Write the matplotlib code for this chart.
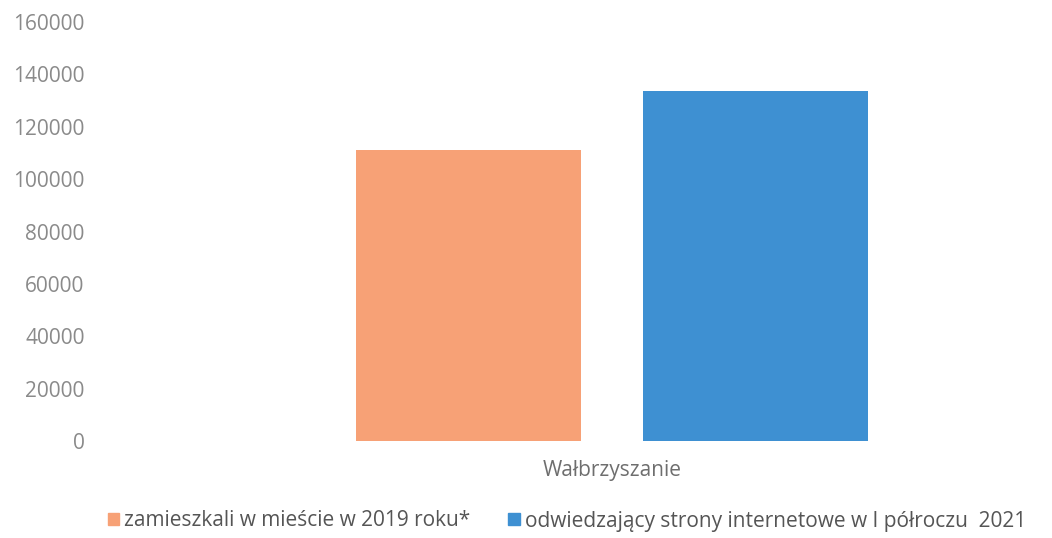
import matplotlib
matplotlib.use("Agg")
import matplotlib.pyplot as plt
from matplotlib.patches import Patch

category = "Wałbrzyszanie"
series_names = ["zamieszkali w mieście w 2019 roku*",
                "odwiedzający strony internetowe w I półroczu  2021"]
series_values = [111000, 133500]
yticks = [0, 20000, 40000, 60000, 80000, 100000, 120000, 140000, 160000]

colors = ["#F7A176", "#3E90D2"]
plt.rcParams["font.family"] = ["Open Sans", "DejaVu Sans"]

fig = plt.figure(figsize=(10.52, 5.38), dpi=100)
ax = fig.add_axes([100 / 1052, 1 - 441 / 538, 940 / 1052, 419 / 538])

offsets = [-0.5, 0.5]
for off, val, col in zip(offsets, series_values, colors):
    ax.bar(off, val, width=0.784, color=col)

ax.set_xlim((100 - 612) / 287, (1040 - 612) / 287)
ax.set_ylim(0, 160000)
ax.set_yticks(yticks)
ax.set_yticklabels([str(t) for t in yticks], color="#8a8a8a", fontsize=15)
ax.set_xticks([0])
ax.set_xticklabels([category], color="#6e6e6e", fontsize=15)
ax.tick_params(axis="y", length=0, pad=11)
ax.tick_params(axis="x", length=0, pad=14)
for s in ax.spines.values():
    s.set_visible(False)

handles = [Patch(color=c, label=n) for c, n in zip(colors, series_names)]
fig.legend(handles=handles, loc="center", bbox_to_anchor=(567 / 1052, 1 - 521 / 538),
           ncol=2, frameon=False, fontsize=15, handlelength=0.55, handleheight=0.55,
           handletextpad=0.25, columnspacing=1.8, labelcolor="#555555")

fig.savefig("out.png", dpi=100)
